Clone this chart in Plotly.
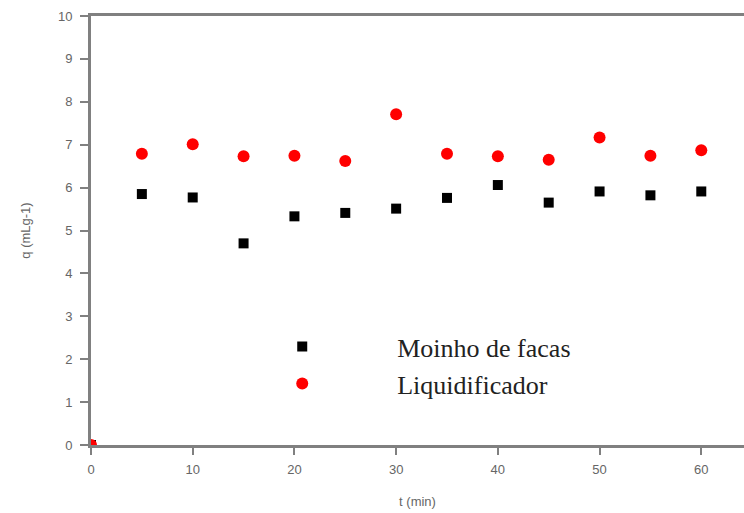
import plotly.graph_objects as go

t_min = [0, 5, 10, 15, 20, 25, 30, 35, 40, 45, 50, 55, 60]
q_moinho = [0, 5.85, 5.77, 4.70, 5.33, 5.41, 5.51, 5.76, 6.06, 5.65, 5.91, 5.82, 5.91]
q_liquidificador = [0, 6.79, 7.01, 6.73, 6.74, 6.62, 7.71, 6.79, 6.73, 6.65, 7.17, 6.74, 6.87]
x_ticks = [0, 10, 20, 30, 40, 50, 60]
y_ticks = [0, 1, 2, 3, 4, 5, 6, 7, 8, 9, 10]

fig = go.Figure()
fig.add_trace(go.Scatter(x=t_min, y=q_moinho, mode="markers", name="Moinho de facas",
                         marker=dict(symbol="square", size=10, color="black")))
fig.add_trace(go.Scatter(x=t_min, y=q_liquidificador, mode="markers", name="Liquidificador",
                         marker=dict(symbol="circle", size=12, color="#ff0000")))

axis_font = dict(family="Liberation Sans, Arial, sans-serif", size=13, color="#666666")
fig.update_layout(
    width=744, height=513,
    margin=dict(l=91, r=0, t=16, b=68),
    paper_bgcolor="white", plot_bgcolor="white",
    showlegend=True,
    legend=dict(x=0.178, y=0.186, xanchor="left", yanchor="middle",
                bgcolor="rgba(0,0,0,0)", itemwidth=180, tracegroupgap=0,
                font=dict(family="Liberation Serif, Times New Roman, serif", size=26, color="#222222")),
    xaxis=dict(range=[0, 64.2], tickvals=x_ticks, showgrid=False, zeroline=False,
               showline=True, linecolor="#808080", linewidth=3, mirror=True,
               ticks="outside", ticklen=7, tickwidth=2, tickcolor="#808080",
               tickfont=axis_font, ticklabelstandoff=3,
               title=dict(text="t (min)", font=axis_font, standoff=22)),
    yaxis=dict(range=[0, 10], tickvals=y_ticks, showgrid=False, zeroline=False,
               showline=True, linecolor="#808080", linewidth=3,
               ticks="outside", ticklen=8, tickwidth=2, tickcolor="#808080",
               tickfont=axis_font, ticklabelstandoff=5,
               title=dict(text="q (mLg-1)", font=axis_font, standoff=25)),
)
fig.write_html("out.html")
